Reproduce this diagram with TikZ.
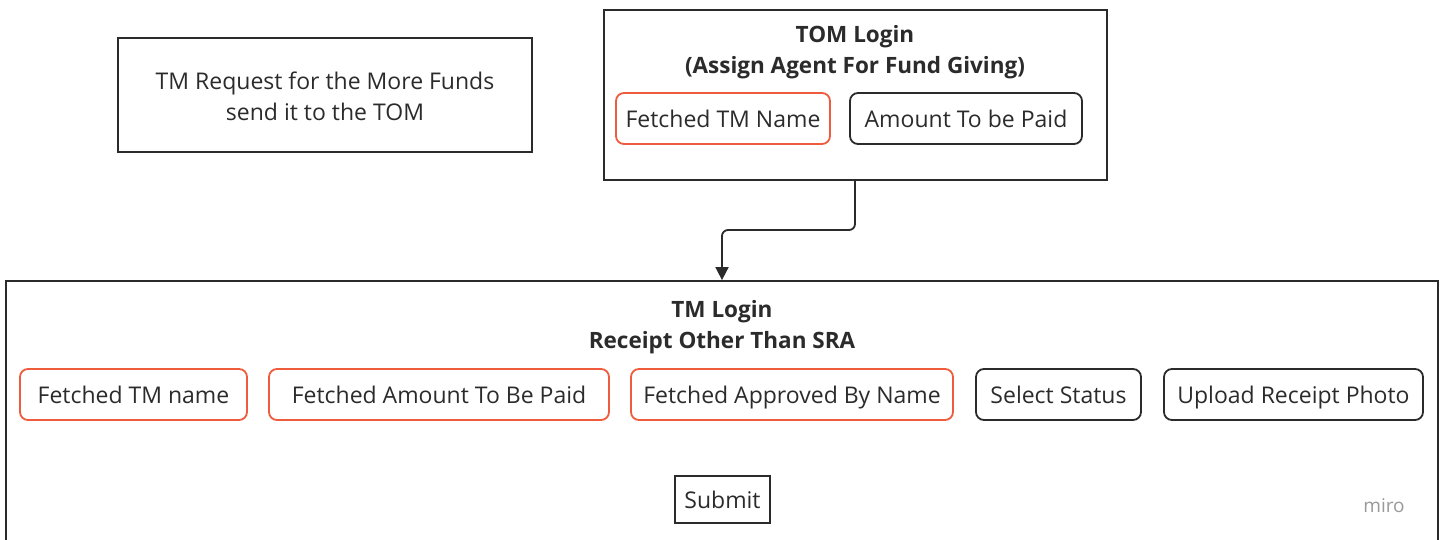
\documentclass[tikz,border=0pt]{standalone}
\usepackage{fontspec}
\setmainfont{Open Sans}
\usetikzlibrary{arrows.meta}
\definecolor{redb}{HTML}{EF5B3D}
\definecolor{ink}{HTML}{2B2B2B}
\tikzset{
  frame/.style={draw=ink, line width=1.8pt, rectangle, inner sep=0pt},
  field/.style={draw=ink, line width=1.8pt, rounded corners=8pt, inner sep=0pt, text height=20pt, text depth=3pt, font=\fontsize{23}{28}\selectfont, text=ink},
  redfield/.style={field, draw=redb},
  title/.style={font=\fontsize{22.5}{31}\selectfont\bfseries, text=ink, align=center},
  plain/.style={font=\fontsize{23}{31}\selectfont, text=ink, align=center},
  conn/.style={draw=ink, line width=1.8pt, rounded corners=6pt, -{Triangle[length=13pt,width=13pt]}}
}
\begin{document}
\begin{tikzpicture}[x=1pt,y=-1pt]
\useasboundingbox (0,0) rectangle (1448,539);
\clip (0,0) rectangle (1448,539);
% left note
\node[frame, minimum width=414pt, minimum height=114pt] (req) at (325,95) {};
\node[plain] (reqt) at (325,96) {TM Request for the More Funds\\send it to the TOM};
% TOM box
\node[frame, minimum width=503pt, minimum height=170pt] (tom) at (855.5,95) {};
\node[title] (tomt) at (855,52) {TOM Login\\(Assign Agent For Fund Giving)};
\node[redfield, minimum width=214pt, minimum height=51pt] (tmname) at (723,118.5) {Fetched TM Name};
\node[field, minimum width=232pt, minimum height=51pt] (amt) at (966,118.5) {Amount To be Paid};
% big box
\node[frame, minimum width=1432pt, minimum height=300pt] (tm) at (722,431) {};
\node[title] (tmt) at (722,327) {TM Login\\Receipt Other Than SRA};
\node[redfield, minimum width=227pt, minimum height=51pt] (f1) at (133.5,394.5) {Fetched TM name};
\node[redfield, minimum width=340pt, minimum height=51pt] (f2) at (439,394.5) {Fetched Amount To Be Paid};
\node[redfield, minimum width=322pt, minimum height=51pt] (f3) at (792,394.5) {Fetched Approved By Name};
\node[field, minimum width=165pt, minimum height=51pt] (f4) at (1058.5,394.5) {Select Status};
\node[field, minimum width=259pt, minimum height=51pt] (f5) at (1293.5,394.5) {Upload Receipt Photo};
\node[frame, minimum width=95pt, minimum height=47pt, text height=20pt, text depth=3pt, font=\fontsize{23}{28}\selectfont, text=ink] (sub) at (722.5,499.5) {Submit};
\node[font=\fontsize{19}{22}\selectfont, text=black!40] (miro) at (1384,506) {miro};
% connector
\coordinate (c1) at (855,230);
\coordinate (c2) at (722,230);
\draw[conn] (tom.south -| c1) -- (c1) -- (c2) -- (c2 |- tm.north);
\end{tikzpicture}
\end{document}
